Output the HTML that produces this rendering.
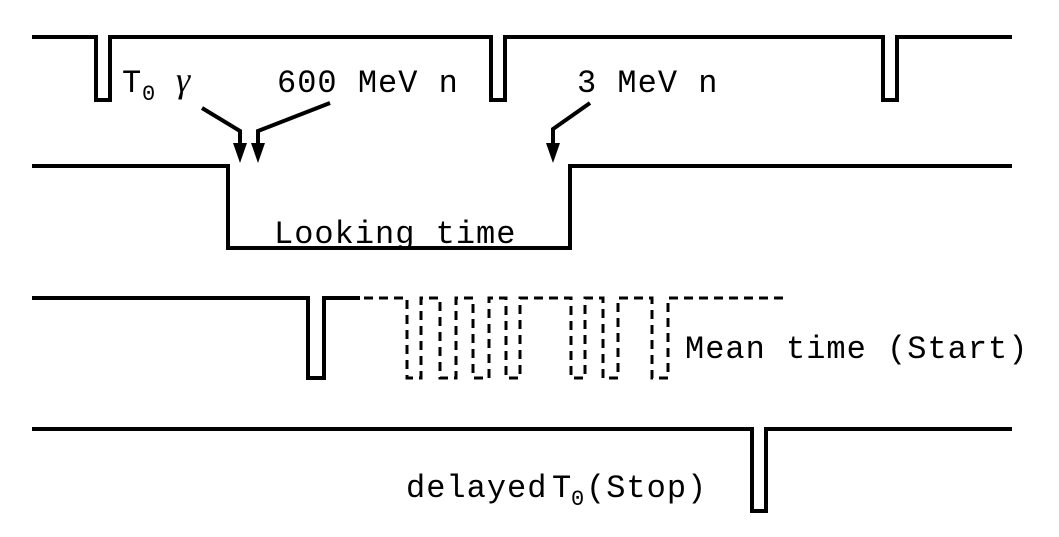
<!DOCTYPE html>
<html><head><style>
body{margin:0;background:#fff;}
svg{display:block;}
text{font-family:"Liberation Mono",monospace;font-size:32px;fill:#000;letter-spacing:1px;}
</style></head><body>
<svg width="1059" height="537" viewBox="0 0 1059 537">
<g fill="none" stroke="#000" stroke-width="4">
<polyline points="32,37 96,37 96,100 110,100 110,37 491,37 491,100 505,100 505,37 883,37 883,100 897,100 897,37 1012,37"/>
<polyline points="32,166 228,166 228,248 570,248 570,166 1012,166"/>
<polyline points="32,298 308,298 308,378 324,378 324,298 360,298"/>
<polyline points="32,429 752,429 752,511 766,511 766,429 1012,429"/>
<polyline points="202,108 240,131 240,145"/>
<polyline points="330,103 258,131 258,145"/>
<polyline points="590,103 553,129 553,145"/>
</g>
<g fill="none" stroke="#000" stroke-width="3" stroke-dasharray="9,6">
<polyline points="364,298 407,298 407,378 421,378 421,298 440,298 440,378 456,378 456,298 473,298 473,378 489,378 489,298 506,298 506,378 520,378 520,298 571,298 571,378 585,378 585,298 603,298 603,378 618,378 618,298 652,298 652,378 668,378 668,298 785,298"/>
</g>
<g fill="#000">
<polygon points="233,143 247,143 240,163"/>
<polygon points="251,143 265,143 258,163"/>
<polygon points="546,143 560,143 553,163"/>
</g>
<text x="122" y="92">T</text><text x="142" y="100" style="font-size:22px">0</text>
<text x="176" y="92" style="font-family:'Liberation Serif',serif;font-size:36px;font-style:italic">γ</text>
<text x="277" y="92">600 MeV n</text>
<text x="577" y="92">3 MeV n</text>
<text x="274" y="243">Looking time</text>
<text x="685" y="358">Mean time (Start)</text>
<text x="406" y="497">delayed</text><text x="552" y="497">T</text><text x="571" y="505" style="font-size:22px">0</text><text x="586" y="497">(Stop)</text>
</svg>
</body></html>
